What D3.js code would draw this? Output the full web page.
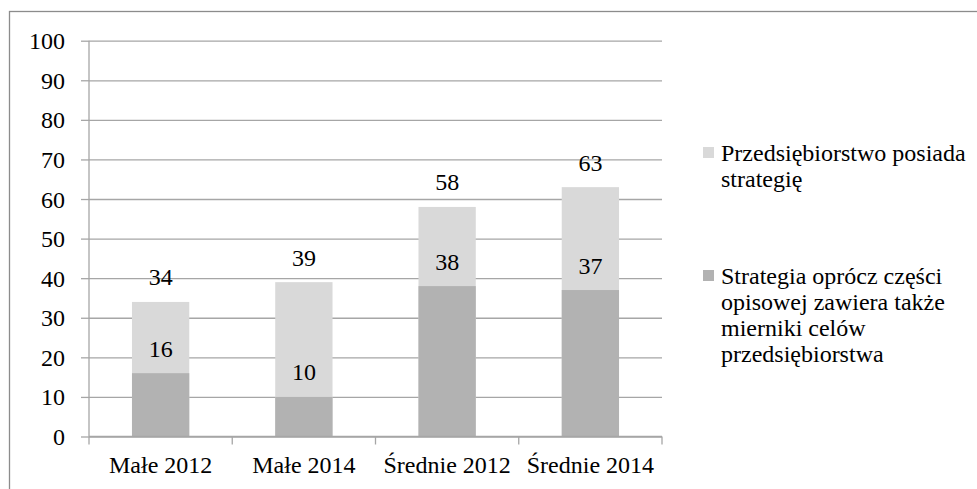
<!DOCTYPE html>
<html>
<head>
<meta charset="utf-8">
<script src="https://cdn.jsdelivr.net/npm/d3@7"></script>
</head>
<body style="margin:0">
<div id="c"></div>
<script>
// chart data
const categories = ['Małe 2012', 'Małe 2014', 'Średnie 2012', 'Średnie 2014'];
const hasStrategy = [34, 39, 58, 63];
const withMeasures = [16, 10, 38, 37];
const yTicks = [0, 10, 20, 30, 40, 50, 60, 70, 80, 90, 100];
const legendLabels = [
  ['Przedsiębiorstwo posiada', 'strategię'],
  ['Strategia oprócz części', 'opisowej zawiera także', 'mierniki celów', 'przedsiębiorstwa']
];
const colors = ['#d9d9d9', '#b2b2b2'];

const width = 977, height = 489;
const plot = { left: 89, right: 662, top: 40.7, bottom: 436.5 };
// text is set at 30px and scaled down to ~24px
const textScale = 0.8;

const svg = d3.select('#c').append('svg')
  .attr('width', width)
  .attr('height', height);

function label(sel, px, py, anchor) {
  return sel
    .attr('transform', (d, i) => `translate(${px(d, i)},${py(d, i)}) scale(${textScale})`)
    .style('font-family', '"Liberation Serif"')
    .style('font-size', '30px')
    .style('text-anchor', anchor);
}

// outer frame (right and bottom edges fall outside the picture)
svg.append('rect')
  .attr('x', 9.5).attr('y', 11.5)
  .attr('width', 1000).attr('height', 1000)
  .style('fill', 'none')
  .style('stroke', '#8c8c8c')
  .style('stroke-width', 1.3);

const x = d3.scaleBand()
  .domain(categories)
  .range([plot.left, plot.right])
  .paddingInner(0.6)
  .paddingOuter(0.3);

const y = d3.scaleLinear()
  .domain([0, 100])
  .range([plot.bottom, plot.top]);

// gridlines
svg.append('g')
  .attr('transform', `translate(${plot.left},0)`)
  .call(d3.axisLeft(y).tickValues(yTicks).tickSize(-(plot.right - plot.left)).tickFormat(''))
  .call(g => g.select('.domain').remove())
  .selectAll('line')
  .style('stroke', '#a6a6a6')
  .style('stroke-width', 1.3);

// bars: both series overlap fully in each category
[hasStrategy, withMeasures].forEach((series, i) => {
  svg.selectAll('.bar' + i)
    .data(series)
    .enter().append('rect')
    .attr('class', 'bar' + i)
    .attr('x', (d, j) => x(categories[j]))
    .attr('width', x.bandwidth())
    .attr('y', d => y(d))
    .attr('height', d => y(0) - y(d))
    .style('fill', colors[i]);
});

// y axis
const yAxis = svg.append('g')
  .attr('transform', `translate(${plot.left},0)`)
  .call(d3.axisLeft(y).tickValues(yTicks).tickSize(8).tickFormat(''));
yAxis.selectAll('line, path').style('stroke', '#a6a6a6').style('stroke-width', 1.3);
yAxis.select('.domain').attr('d', `M0,${plot.top}V${plot.bottom}`);
label(svg.selectAll('.ylbl')
  .data(yTicks)
  .enter().append('text')
  .attr('class', 'ylbl')
  .text(d => d), () => 65, d => y(d) + 8.5, 'end');

// x axis with tick marks between categories
const xAxis = svg.append('g')
  .attr('transform', `translate(0,${plot.bottom})`)
  .call(d3.axisBottom(x).tickSize(0).tickFormat(''));
xAxis.select('.domain').style('stroke', '#a6a6a6').style('stroke-width', 1.3)
  .attr('d', `M${plot.left},0H${plot.right}`);
xAxis.selectAll('.sep')
  .data(d3.range(categories.length + 1))
  .enter().append('line')
  .attr('x1', i => plot.left + i * (plot.right - plot.left) / categories.length)
  .attr('x2', i => plot.left + i * (plot.right - plot.left) / categories.length)
  .attr('y1', 0).attr('y2', 8)
  .style('stroke', '#a6a6a6')
  .style('stroke-width', 1.3);
label(svg.selectAll('.xlbl')
  .data(categories)
  .enter().append('text')
  .attr('class', 'xlbl')
  .text(d => d), d => x(d) + x.bandwidth() / 2, () => 473, 'middle');

// data labels above each bar
[hasStrategy, withMeasures].forEach((series, i) => {
  label(svg.selectAll('.lbl' + i)
    .data(series)
    .enter().append('text')
    .attr('class', 'lbl' + i)
    .text(d => d), (d, j) => x(categories[j]) + x.bandwidth() / 2, d => y(d) - 16.5, 'middle');
});

// legend
const legendTop = [161, 284];
legendLabels.forEach((lines, i) => {
  svg.append('rect')
    .attr('x', 703).attr('y', legendTop[i] - 14)
    .attr('width', 11).attr('height', 11)
    .style('fill', colors[i]);
  label(svg.selectAll('.leg' + i)
    .data(lines)
    .enter().append('text')
    .attr('class', 'leg' + i)
    .text(d => d), () => 721, (d, k) => legendTop[i] + k * 26, 'start');
});
</script>
</body>
</html>
